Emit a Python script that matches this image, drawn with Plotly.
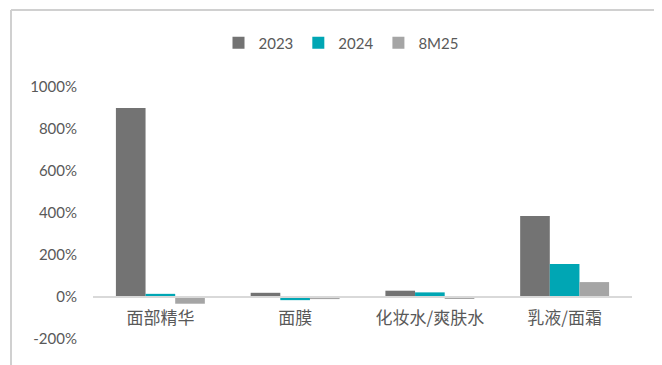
import plotly.graph_objects as go

categories = ["面部精华", "面膜", "化妆水/爽肤水", "乳液/面霜"]
series_names = ["2023", "2024", "8M25"]
v2023 = [900, 20, 30, 386]
v2024 = [15, -15, 22, 157]
v8m25 = [-32, -10, -5, 71]
colors = ["#737373", "#00A6B4", "#A5A5A5"]
tick_vals = [-200, 0, 200, 400, 600, 800, 1000]
tick_text = ["-200%", "0%", "200%", "400%", "600%", "800%", "1000%"]

OFF = 8  # page offset
W, H = 662 - OFF, 365 - OFF
PL, PR, PT, PB = 93 - OFF, 632 - OFF, 87 - OFF, 339 - OFF
L, R, T, B = PL, W - PR, PT, H - PB
pw, ph = PR - PL, PB - PT

def px_x(p):
    return (p - OFF - PL) / pw

def px_y(p):
    return (PB - (p - OFF)) / ph

fig = go.Figure()
for name, vals, c in zip(series_names, [v2023, v2024, v8m25], colors):
    fig.add_trace(go.Bar(x=categories, y=vals, name=name, marker=dict(color=c, line=dict(width=0))))

border = dict(color="#D0D0D0", width=2)
fig.update_layout(
    width=W, height=H,
    margin=dict(l=L, r=R, t=T, b=B),
    paper_bgcolor="white", plot_bgcolor="white",
    barmode="group", bargap=0.34, bargroupgap=0,
    font=dict(family="Lato, Noto Sans CJK SC, sans-serif", color="#595959"),
    legend=dict(orientation="h", x=px_x(341), xanchor="center", y=px_y(43), yanchor="middle",
                font=dict(size=15, color="#595959", family="Lato"), itemwidth=30,
                traceorder="normal"),
    showlegend=True,
    shapes=[
        dict(type="line", xref="paper", yref="paper", x0=px_x(11), x1=px_x(11),
             y0=px_y(380), y1=px_y(10), line=border, layer="above"),
        dict(type="line", xref="paper", yref="paper", x0=px_x(11), x1=px_x(655),
             y0=px_y(10), y1=px_y(10), line=border, layer="above"),
        dict(type="line", xref="paper", yref="paper", x0=px_x(655), x1=px_x(655),
             y0=px_y(380), y1=px_y(10), line=border, layer="above"),
    ],
)
fig.update_xaxes(anchor="free", position=px_y(297), showline=True, linecolor="#D9D9D9", linewidth=2,
                 ticks="", showgrid=False, tickfont=dict(size=17, color="#595959",
                 family="Noto Sans CJK SC"), ticklabelstandoff=6)
fig.update_yaxes(range=[-200, 1000], tickvals=tick_vals, ticktext=tick_text, showgrid=False,
                 zeroline=False, showline=False, ticks="", ticklabelstandoff=15,
                 tickfont=dict(size=15, color="#595959", family="Lato"))

fig.write_html("out.html")
